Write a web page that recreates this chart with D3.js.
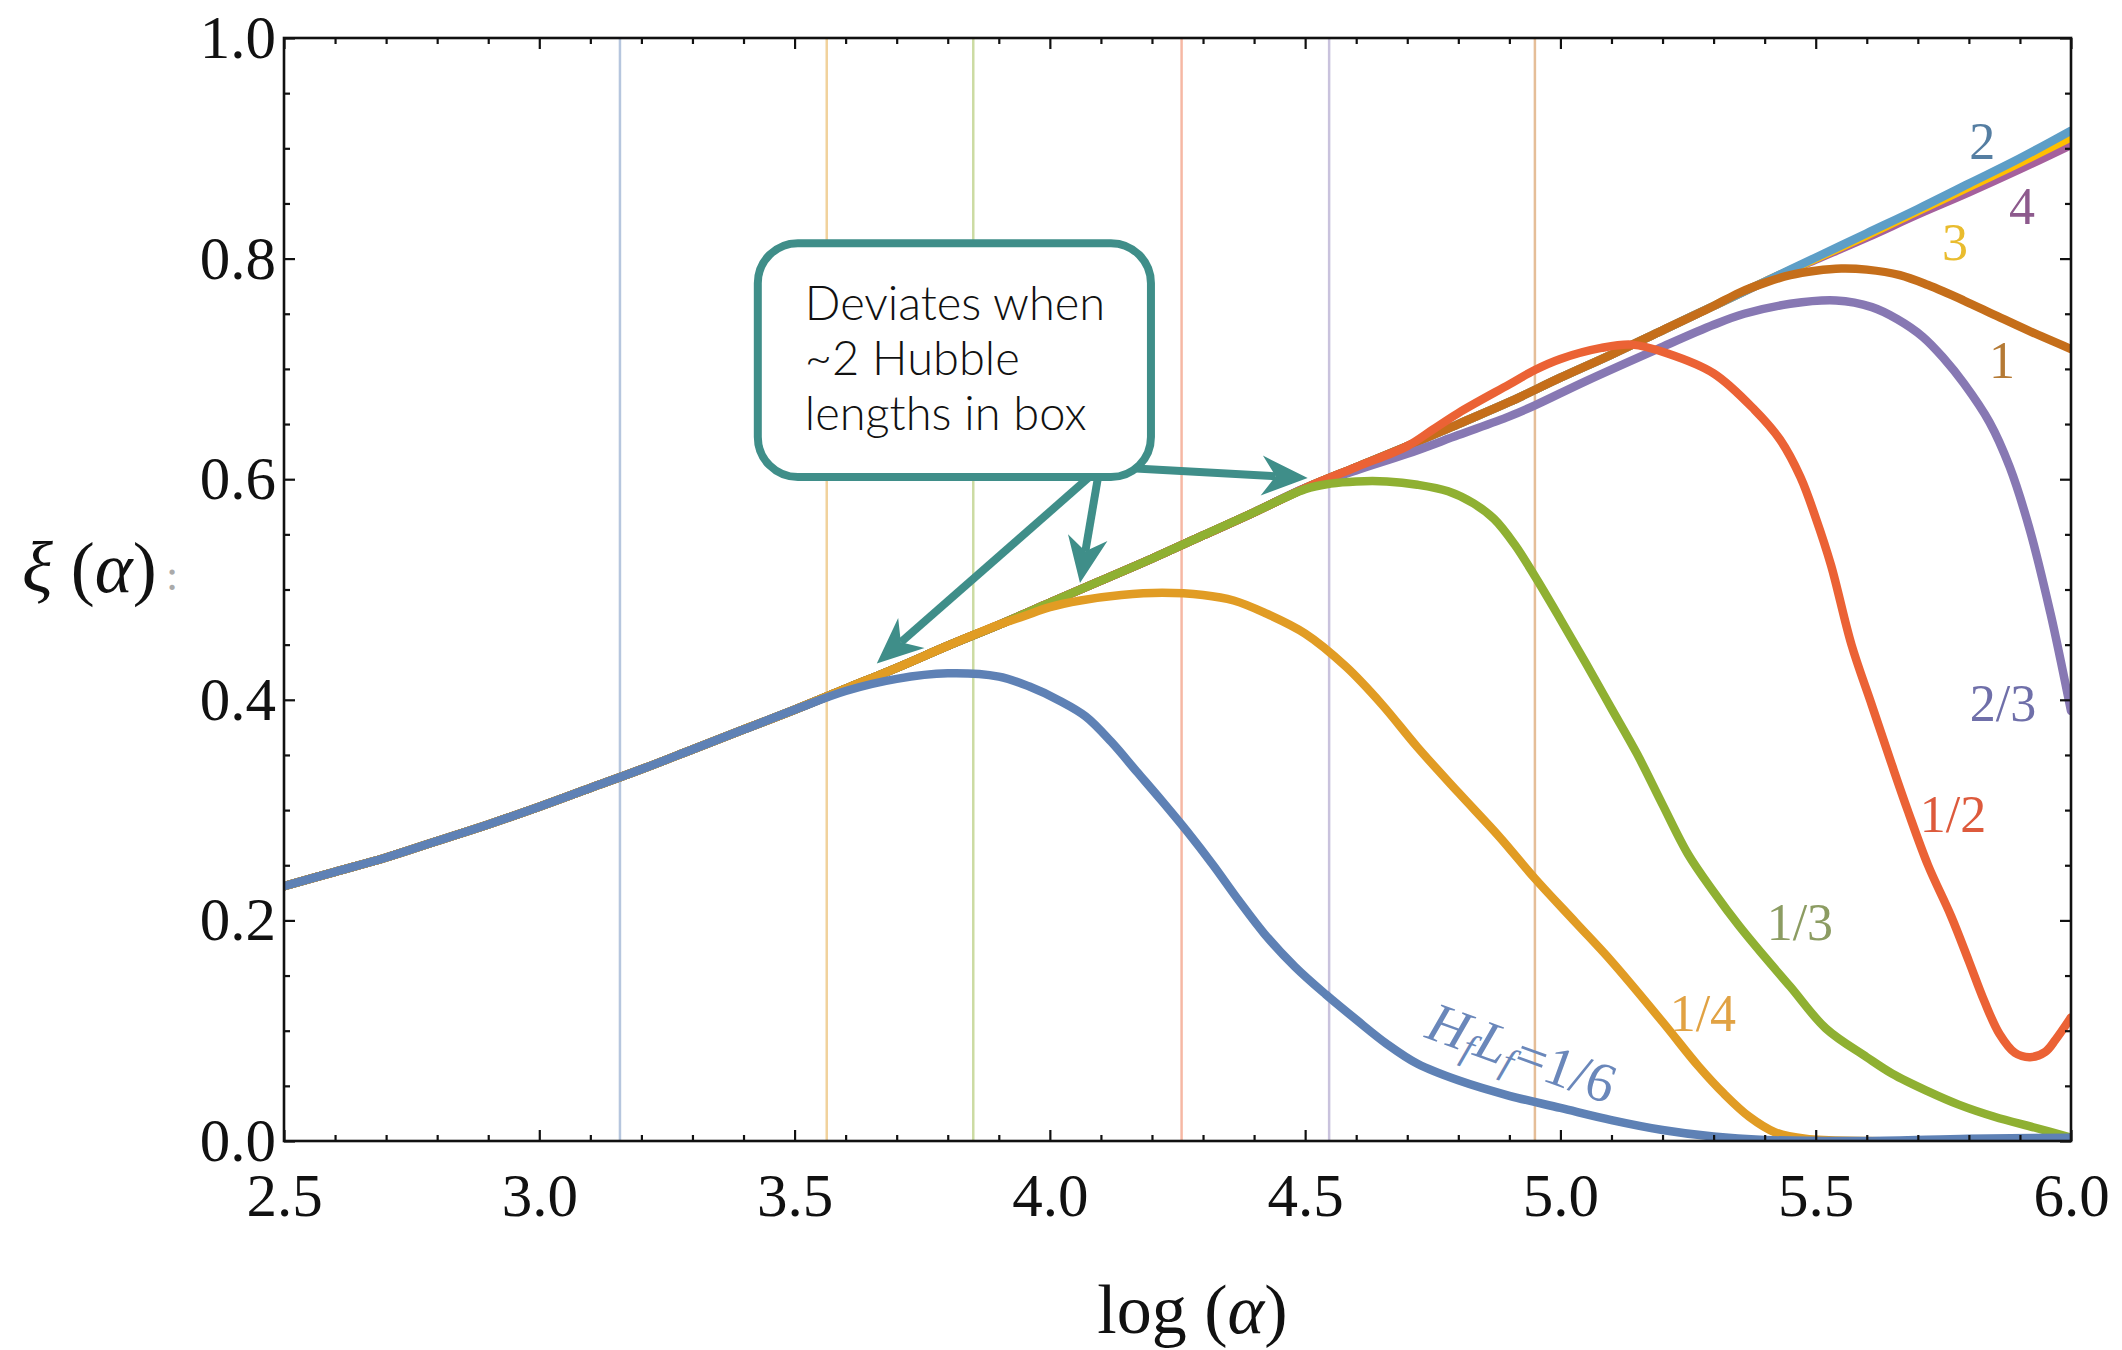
<!DOCTYPE html>
<html><head><meta charset="utf-8">
<script src="https://cdn.jsdelivr.net/npm/d3@7"></script>
<style>html,body{margin:0;padding:0;background:#fff;}</style>
</head><body><svg id="chart" width="2122" height="1350"></svg>
<script>
// ---------- data ----------
const xTickValues = [2.5, 3.0, 3.5, 4.0, 4.5, 5.0, 5.5, 6.0];
const yTickValues = [0.0, 0.2, 0.4, 0.6, 0.8, 1.0];
const xTickLabels = ["2.5","3.0","3.5","4.0","4.5","5.0","5.5","6.0"];
const yTickLabels = ["0.0","0.2","0.4","0.6","0.8","1.0"];

// common scaling curve (before deviation)
const envelopeX = [2.5,2.6,2.7,2.8,2.9,3.0,3.1,3.2,3.3,3.4,3.5,3.6,3.7,3.8,3.9,4.0,4.1,4.2,4.3,4.4,4.5,4.6,4.7,4.8,4.9,5.0,5.1,5.2,5.3,5.4,5.5,5.6,5.7,5.8,5.9,6.0];
const envelopeY = [0.231,0.244,0.257,0.272,0.287,0.303,0.320,0.337,0.355,0.373,0.391,0.410,0.429,0.449,0.468,0.488,0.508,0.528,0.549,0.570,0.592,0.611,0.630,0.650,0.670,0.692,0.713,0.735,0.757,0.779,0.801,0.823,0.845,0.868,0.891,0.916];

const seriesNames = ["4","3","2","1","2/3","1/2","1/3","1/4","1/6"];
const seriesColors = ["#A5609D","#FFBF00","#5D9EC7","#C56E1A","#8778B3","#EB6235","#8FB032","#E19C24","#5E81B5"];

const tail4X  = [5.5,5.6,5.7,5.8,5.9,6.0];
const tail4Y  = [0.799,0.819,0.840,0.860,0.881,0.903];
const tail3X  = [5.5,5.6,5.7,5.8,5.9,6.0];
const tail3Y  = [0.800,0.821,0.843,0.865,0.887,0.910];
const tail2X  = [];
const tail2Y  = [];
const tail1X  = [5.35,5.4,5.45,5.5,5.55,5.6,5.665,5.72,5.79,5.85,5.92,6.0];
const tail1Y  = [0.769,0.778,0.785,0.789,0.791,0.790,0.785,0.776,0.762,0.749,0.734,0.718];
const tail23X = [4.6,4.7,4.8,4.9,4.95,5.05,5.19,5.3,5.36,5.45,5.54,5.61,5.66,5.71,5.75,5.79,5.84,5.88,5.92,5.96,5.98,6.0];
const tail23Y = [0.608,0.623,0.640,0.657,0.667,0.689,0.718,0.740,0.750,0.759,0.762,0.756,0.745,0.729,0.710,0.687,0.652,0.611,0.553,0.478,0.435,0.390];
const tail12X = [4.75,4.8,4.9,4.95,5.0,5.08,5.14,5.21,5.3,5.38,5.43,5.47,5.5,5.53,5.57,5.61,5.65,5.68,5.72,5.765,5.8,5.83,5.86,5.89,5.92,5.95,5.97,6.0];
const tail12Y = [0.645,0.660,0.686,0.699,0.709,0.719,0.722,0.714,0.696,0.663,0.636,0.602,0.565,0.522,0.450,0.395,0.340,0.300,0.250,0.204,0.163,0.127,0.097,0.080,0.076,0.081,0.092,0.112];
const tail13X = [4.5,4.55,4.6,4.66,4.72,4.78,4.83,4.87,4.91,4.95,5.0,5.05,5.1,5.15,5.2,5.25,5.3,5.35,5.4,5.45,5.52,5.6,5.65,5.72,5.78,5.85,5.93,6.0];
const tail13Y = [0.591,0.596,0.598,0.598,0.595,0.589,0.578,0.564,0.541,0.512,0.473,0.433,0.392,0.351,0.305,0.260,0.226,0.195,0.167,0.140,0.102,0.076,0.061,0.045,0.033,0.022,0.012,0.003];
const tail14X = [3.95,4.0,4.06,4.14,4.22,4.3,4.36,4.42,4.5,4.58,4.65,4.72,4.8,4.88,4.95,5.03,5.1,5.2,5.27,5.32,5.37,5.42,5.48,5.6,6.0];
const tail14Y = [0.476,0.484,0.490,0.495,0.497,0.495,0.490,0.479,0.460,0.430,0.396,0.357,0.316,0.276,0.238,0.198,0.163,0.108,0.068,0.043,0.022,0.008,0.002,0.000,0.000];
const tail16X = [3.6,3.7,3.8,3.9,3.96,4.02,4.07,4.12,4.17,4.22,4.27,4.32,4.37,4.42,4.48,4.54,4.6,4.66,4.72,4.8,4.9,5.0,5.1,5.2,5.3,5.4,5.6,5.8,6.0];
const tail16Y = [0.408,0.419,0.424,0.421,0.412,0.399,0.385,0.362,0.335,0.308,0.280,0.250,0.218,0.188,0.158,0.133,0.110,0.088,0.070,0.055,0.041,0.030,0.019,0.010,0.004,0.001,0.000,0.002,0.003];

const tailsX = [tail4X, tail3X, tail2X, tail1X, tail23X, tail12X, tail13X, tail14X, tail16X];
const tailsY = [tail4Y, tail3Y, tail2Y, tail1Y, tail23Y, tail12Y, tail13Y, tail14Y, tail16Y];

// vertical markers
const vlineX = [3.158, 3.563, 3.850, 4.258, 4.547, 4.950];
const vlineColors = ["#5E81B5","#E19C24","#8FB032","#EB6235","#8778B3","#C56E1A"];

// curve labels
const labelTexts  = ["2","4","3","1","2/3","1/2","1/3","1/4"];
const labelX      = [5.826,5.904,5.773,5.865,5.867,5.769,5.469,5.279];
const labelY      = [0.906,0.847,0.815,0.708,0.397,0.296,0.198,0.116];
const labelColors = ["#557ea2","#8d5a8d","#e9bc2e","#b57a35","#6f6fa9","#dd5a3c","#8c9c62","#e1a243"];

// annotation
const boxX = [3.428, 4.198], boxY = [0.602, 0.814];
const noteLines = ["Deviates when", "~2 Hubble", "lengths in box"];
const arrowFromX = [4.075, 4.094, 4.159], arrowFromY = [0.601, 0.601, 0.610];
const arrowToX   = [3.661, 4.059, 4.505], arrowToY   = [0.433, 0.506, 0.601];

// ---------- drawing ----------
const svg = d3.select("#chart");
svg.append("rect").attr("width",2122).attr("height",1350).attr("fill","#fff");
const L = 284, R = 2071, T = 38, B = 1141;
const x = d3.scaleLinear().domain([2.5, 6.0]).range([L, R]);
const y = d3.scaleLinear().domain([0, 1]).range([B, T]);

// vertical lines
svg.append("g").selectAll("line").data(vlineX).join("line")
  .attr("x1", d => x(d)).attr("x2", d => x(d)).attr("y1", T).attr("y2", B)
  .attr("stroke", (d,i) => vlineColors[i]).attr("stroke-opacity", 0.45).attr("stroke-width", 2.5);

// curves
const line = d3.line().x(d => x(d[0])).y(d => y(d[1])).curve(d3.curveCatmullRom.alpha(0.5));
const series = seriesNames.map((name, i) => {
  const tx = tailsX[i], ty = tailsY[i];
  const start = tx.length ? tx[0] : Infinity;
  const pts = [];
  envelopeX.forEach((ex, j) => { if (ex < start - 1e-9) pts.push([ex, envelopeY[j]]); });
  tx.forEach((v, j) => pts.push([v, ty[j]]));
  return {name, color: seriesColors[i], pts};
});
svg.append("clipPath").attr("id","plotclip").append("rect")
  .attr("x", L).attr("y", T - 2).attr("width", R - L).attr("height", B - T + 2);
svg.append("g").attr("clip-path","url(#plotclip)").selectAll("path").data(series).join("path")
  .attr("d", d => line(d.pts)).attr("fill","none").attr("stroke", d => d.color)
  .attr("stroke-width", 8.5).attr("stroke-linejoin","round").attr("stroke-linecap","round");

// axes with inward ticks
const serif = "'Liberation Serif', 'DejaVu Serif', serif";
const xMinor = d3.range(25, 61).map(v => v / 10).filter(v => Math.abs(v * 2 - Math.round(v * 2)) > 1e-6);
const yMinor = d3.range(0, 21).map(v => v / 20).filter(v => Math.abs(v * 5 - Math.round(v * 5)) > 1e-6);

function styleAxis(g) {
  g.select(".domain").remove();
  g.selectAll(".tick line").attr("stroke", "#111").attr("stroke-width", 2.2);
}
svg.append("g").attr("transform", `translate(0,${B})`)
  .call(d3.axisBottom(x).tickValues(xTickValues).tickSize(-11).tickPadding(32).tickFormat((d,i) => xTickLabels[i]))
  .call(styleAxis)
  .call(g => g.selectAll("text").attr("font-family", serif).attr("font-size", 61).attr("fill", "#111"));
svg.append("g").attr("transform", `translate(0,${B})`)
  .call(d3.axisBottom(x).tickValues(xMinor).tickSize(-6).tickFormat("")).call(styleAxis);
svg.append("g").attr("transform", `translate(0,${T})`)
  .call(d3.axisTop(x).tickValues(xTickValues).tickSize(-11).tickFormat("")).call(styleAxis);
svg.append("g").attr("transform", `translate(0,${T})`)
  .call(d3.axisTop(x).tickValues(xMinor).tickSize(-6).tickFormat("")).call(styleAxis);
svg.append("g").attr("transform", `translate(${L},0)`)
  .call(d3.axisLeft(y).tickValues(yTickValues).tickSize(-11).tickPadding(8).tickFormat((d,i) => yTickLabels[i]))
  .call(styleAxis)
  .call(g => g.selectAll("text").attr("font-family", serif).attr("font-size", 61).attr("fill", "#111"));
svg.append("g").attr("transform", `translate(${L},0)`)
  .call(d3.axisLeft(y).tickValues(yMinor).tickSize(-6).tickFormat("")).call(styleAxis);
svg.append("g").attr("transform", `translate(${R},0)`)
  .call(d3.axisRight(y).tickValues(yTickValues).tickSize(-11).tickFormat("")).call(styleAxis);
svg.append("g").attr("transform", `translate(${R},0)`)
  .call(d3.axisRight(y).tickValues(yMinor).tickSize(-6).tickFormat("")).call(styleAxis);

// frame
svg.append("rect").attr("x", L).attr("y", T).attr("width", R - L).attr("height", B - T)
  .attr("fill", "none").attr("stroke", "#111").attr("stroke-width", 2.6);

// curve labels
svg.append("g").selectAll("text").data(labelTexts).join("text")
  .attr("x", (d,i) => x(labelX[i])).attr("y", (d,i) => y(labelY[i]))
  .attr("text-anchor","middle").attr("dominant-baseline","central")
  .attr("font-family", serif).attr("font-size", 52).attr("fill", (d,i) => labelColors[i])
  .text(d => d);

// rotated H_f L_f = 1/6 label
const hl = svg.append("text")
  .attr("transform", `translate(${x(4.925)},${y(0.08)}) rotate(20)`)
  .attr("text-anchor","middle").attr("dominant-baseline","central")
  .attr("font-family", serif).attr("font-size", 56).attr("fill", "#6a87ba");
hl.append("tspan").attr("font-style","italic").text("H");
hl.append("tspan").attr("font-style","italic").attr("font-size", 38).attr("dy", 13).text("f");
hl.append("tspan").attr("font-style","italic").attr("dy", -13).text("L");
hl.append("tspan").attr("font-style","italic").attr("font-size", 38).attr("dy", 13).text("f");
hl.append("tspan").attr("dy", -13).text("=1/6");

// annotation arrows
const teal = "#3f8e89";
const ann = svg.append("g");
arrowFromX.forEach((fx, i) => {
  const x1 = x(fx), y1 = y(arrowFromY[i]), x2 = x(arrowToX[i]), y2 = y(arrowToY[i]);
  const ang = Math.atan2(y2 - y1, x2 - x1);
  const HL = 46, HW = 40, N = 32;
  ann.append("line").attr("x1", x1).attr("y1", y1)
    .attr("x2", x2 - N * Math.cos(ang)).attr("y2", y2 - N * Math.sin(ang))
    .attr("stroke", teal).attr("stroke-width", 8);
  ann.append("path").attr("d", `M0,0 L${-HL},${-HW/2} L${-N},0 L${-HL},${HW/2} Z`)
    .attr("transform", `translate(${x2},${y2}) rotate(${ang * 180 / Math.PI})`)
    .attr("fill", teal);
});
// annotation box
ann.append("rect").attr("x", x(boxX[0])).attr("y", y(boxY[1]))
  .attr("width", x(boxX[1]) - x(boxX[0])).attr("height", y(boxY[0]) - y(boxY[1]))
  .attr("rx", 40).attr("ry", 40).attr("fill", "#fff").attr("stroke", teal).attr("stroke-width", 8);
ann.append("g").selectAll("text").data(noteLines).join("text")
  .attr("x", x(boxX[0]) + 47).attr("y", (d,i) => y(boxY[1]) + 77 + i * 55)
  .attr("font-family", "Lato, 'Open Sans', sans-serif").attr("font-weight", 300)
  .attr("font-size", 47).attr("fill", "#111").text(d => d);

// axis titles
const yt = svg.append("text").attr("x", 22).attr("y", 592)
  .attr("font-family", serif).attr("font-size", 72).attr("fill", "#111");
yt.append("tspan").attr("font-style","italic").text("ξ");
yt.append("tspan").text(" (");
yt.append("tspan").attr("font-style","italic").text("α");
yt.append("tspan").text(")");
svg.append("text").attr("x", 166).attr("y", 590).attr("font-family", serif)
  .attr("font-size", 44).attr("fill", "#aaa").text(":");

const xt = svg.append("text").attr("x", x(4.25) + 15).attr("y", 1333).attr("text-anchor","middle")
  .attr("font-family", serif).attr("font-size", 70).attr("fill", "#111");
xt.append("tspan").text("log (");
xt.append("tspan").attr("font-style","italic").text("α");
xt.append("tspan").text(")");
</script>
</body></html>
